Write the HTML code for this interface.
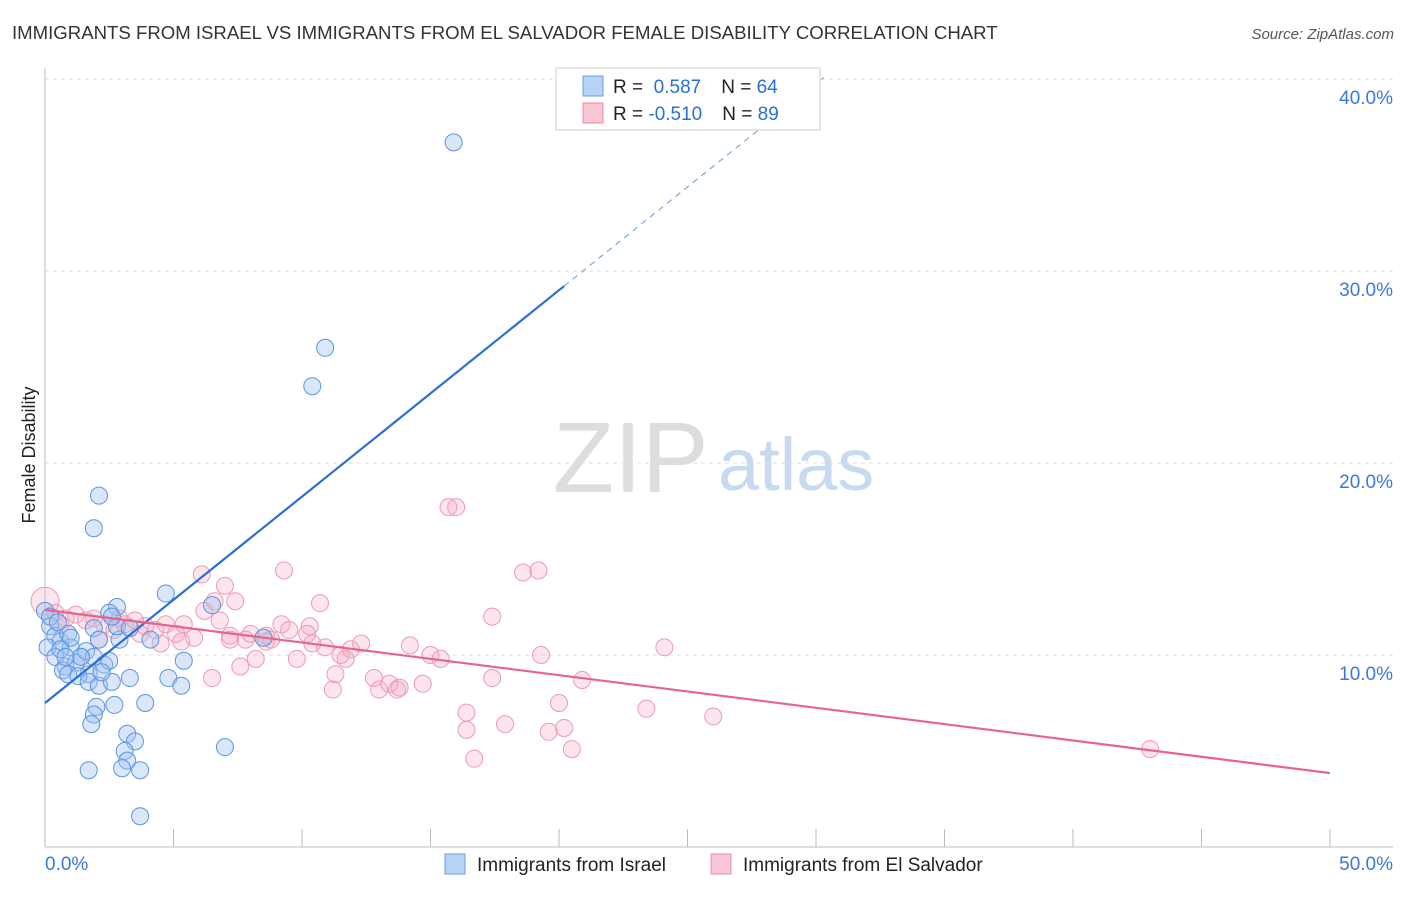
<!DOCTYPE html>
<html><head><meta charset="utf-8"><style>
body{margin:0;background:#fff;font-family:"Liberation Sans",sans-serif;}
svg text{font-family:"Liberation Sans",sans-serif;}
</style></head><body>
<svg id="c" width="1406" height="892" xmlns="http://www.w3.org/2000/svg">
<text x="12" y="39" font-size="18.6" fill="#333">IMMIGRANTS FROM ISRAEL VS IMMIGRANTS FROM EL SALVADOR FEMALE DISABILITY CORRELATION CHART</text>
<text x="1394" y="39" font-size="15" fill="#555" font-style="italic" text-anchor="end">Source: ZipAtlas.com</text>
<text x="35" y="455" font-size="18" fill="#222" transform="rotate(-90 35 455)" text-anchor="middle">Female Disability</text>
<g><text x="553" y="492" font-size="100" fill="#ddd" font-family="Liberation Serif,serif">ZIP</text><text x="718" y="490" font-size="74" fill="#c8daf0">atlas</text></g>
<g id="grid"></g><g id="pts"></g><g id="lines"></g>
<g>
<rect x="556" y="68" width="264" height="62" fill="#fff" stroke="#ccc"/>
<rect x="583" y="76" width="20" height="20" fill="#b8d4f5" stroke="#6a9de0"/>
<rect x="583" y="103" width="20" height="20" fill="#f9c6d4" stroke="#e88aa6"/>
<text x="613" y="93" font-size="19" fill="#222">R = <tspan fill="#2a6fd6">&#160;0.587</tspan><tspan dx="20" fill="#222">N = </tspan><tspan fill="#2a6fd6">64</tspan></text>
<text x="613" y="120" font-size="19" fill="#222">R = <tspan fill="#2a6fd6">-0.510</tspan><tspan dx="20" fill="#222">N = </tspan><tspan fill="#2a6fd6">89</tspan></text>
</g>
<g>
<rect x="445" y="854" width="20" height="20" fill="#b8d4f5" stroke="#6a9de0"/>
<text x="477" y="871" font-size="19" fill="#222">Immigrants from Israel</text>
<rect x="711" y="854" width="20" height="20" fill="#f9c6d4" stroke="#e88aa6"/>
<text x="743" y="871" font-size="19" fill="#222">Immigrants from El Salvador</text>
</g>
</svg>
<script>
const xTicks=[0,5,10,15,20,25,30,35,40,45,50];
const yTicks=[10,20,30,40];
const israelX=[15.9,10.9,10.4,2.1,1.9,4.7,2.8,6.5,8.5,0,0.2,0.4,0.6,0.1,0.9,1.0,1.4,0.4,0.8,1.2,1.6,1.9,2.3,1.7,0.7,0.9,1.3,1.7,2.1,2.5,2.9,2.5,2.8,3.3,4.1,5.4,3.3,2.6,4.8,5.3,2.0,1.9,1.8,2.7,3.9,3.2,3.5,3.1,3.2,3.0,3.7,1.7,7.0,3.7,0.2,0.5,1.0,1.4,1.9,2.1,0.6,0.8,2.2,2.6];
const israelY=[36.7,26.0,24.0,18.3,16.6,13.2,12.5,12.6,10.9,12.3,11.5,11.0,10.7,10.4,11.1,10.4,9.9,9.9,9.4,9.6,10.2,9.9,9.5,9.0,9.2,9.0,8.9,8.6,8.4,9.7,10.8,12.2,11.5,11.4,10.8,9.7,8.8,8.6,8.8,8.4,7.3,6.9,6.4,7.4,7.5,5.9,5.5,5.0,4.5,4.1,4.0,4.0,5.2,1.6,12.0,11.7,10.9,9.9,11.4,10.8,10.3,9.9,9.1,12.0];
const salvX=[0,0.4,0.8,1.2,1.6,1.9,2.3,2.7,3.1,3.5,3.9,4.3,4.7,5.1,5.4,5.8,6.2,6.6,7.0,7.4,6.1,6.8,7.2,7.8,8.2,7.6,6.5,8.6,8.8,9.2,9.5,9.8,10.3,10.7,10.2,9.3,10.4,10.9,11.5,11.9,11.7,12.3,11.3,11.2,12.8,13.0,13.4,13.7,13.8,14.2,14.7,15.0,15.4,15.7,16.0,16.4,16.4,16.7,17.4,17.4,17.9,18.6,19.2,19.3,19.6,20.0,20.2,20.5,20.9,23.4,24.1,26.0,43.0,2.1,2.9,3.7,4.5,5.3,0.6,8.0,8.6,7.2];
const salvY=[12.8,12.2,11.9,12.1,11.8,11.9,11.6,11.3,11.6,11.8,11.5,11.3,11.6,11.1,11.6,10.9,12.3,12.8,13.6,12.8,14.2,11.8,11.0,10.8,9.8,9.4,8.8,11.0,10.8,11.6,11.3,9.8,11.5,12.7,11.1,14.4,10.6,10.4,10.0,10.3,9.8,10.6,9.0,8.2,8.8,8.2,8.5,8.2,8.3,10.5,8.5,10.0,9.8,17.7,17.7,7.0,6.1,4.6,12.0,8.8,6.4,14.3,14.4,10.0,6.0,7.5,6.2,5.1,8.7,7.2,10.4,6.8,5.1,10.8,11.9,11.1,10.6,10.7,11.6,11.1,10.7,10.8];
const X=v=>45+v*25.7, Y=v=>847-v*19.2;
const NS='http://www.w3.org/2000/svg';
function mk(tag,attrs,parent){const e=document.createElementNS(NS,tag);for(const k in attrs)e.setAttribute(k,attrs[k]);parent.appendChild(e);return e;}
const grid=document.getElementById('grid');
mk('line',{x1:45,y1:68,x2:45,y2:847,stroke:'#bbb'},grid);
mk('line',{x1:45,y1:847,x2:1393,y2:847,stroke:'#bbb'},grid);
yTicks.forEach(t=>{
 const l=mk('line',{x1:45,y1:Y(t),x2:1393,y2:Y(t),stroke:'#ddd','stroke-dasharray':'4,4'},grid);
 
 
 const tx=mk('text',{x:1393,y:Y(t)+25,'font-size':19,fill:'#3b78d8','text-anchor':'end'},grid);tx.textContent=t.toFixed(1)+'%';
 
 
});
xTicks.forEach(t=>{
 const l=mk('line',{x1:X(t),y1:829,x2:X(t),y2:847,stroke:'#bbb'},grid);
 
 
});
[[0,'start'],[50,'end']].forEach(([t,a])=>{
 const tx=mk('text',{x:t==0?45:1393,y:870,'font-size':19,fill:'#3b78d8','text-anchor':a},grid);tx.textContent=t.toFixed(1)+'%';
 
 
});
const pts=document.getElementById('pts');
salvX.forEach((x,i)=>{const c=mk('circle',{cx:X(x),cy:Y(salvY[i]),r:i==0?14:8.5,fill:'rgba(246,170,192,0.3)',stroke:'#ee9ab3','stroke-width':1},pts);
 
 });
israelX.forEach((x,i)=>{const c=mk('circle',{cx:X(x),cy:Y(israelY[i]),r:8.5,fill:'rgba(160,196,240,0.4)',stroke:'#5a95e2','stroke-width':1},pts);
 
 });
const lines=document.getElementById('lines');
const bI=7.5,bS=1.075,pI=12.35,pS=-0.17;
let l=mk('line',{x1:X(0),y1:Y(bI),x2:X(20.2),y2:Y(bI+bS*20.2),stroke:'#2a6fd6','stroke-width':2.2},lines);


l=mk('line',{x1:X(20.2),y1:Y(bI+bS*20.2),x2:X(30.3),y2:Y(bI+bS*30.3),stroke:'#7aa8e4','stroke-width':1.2,'stroke-dasharray':'6,5'},lines);


l=mk('line',{x1:X(0),y1:Y(pI),x2:X(50),y2:Y(pI+pS*50),stroke:'#e8628f','stroke-width':2.2},lines);


</script>
</body></html>
